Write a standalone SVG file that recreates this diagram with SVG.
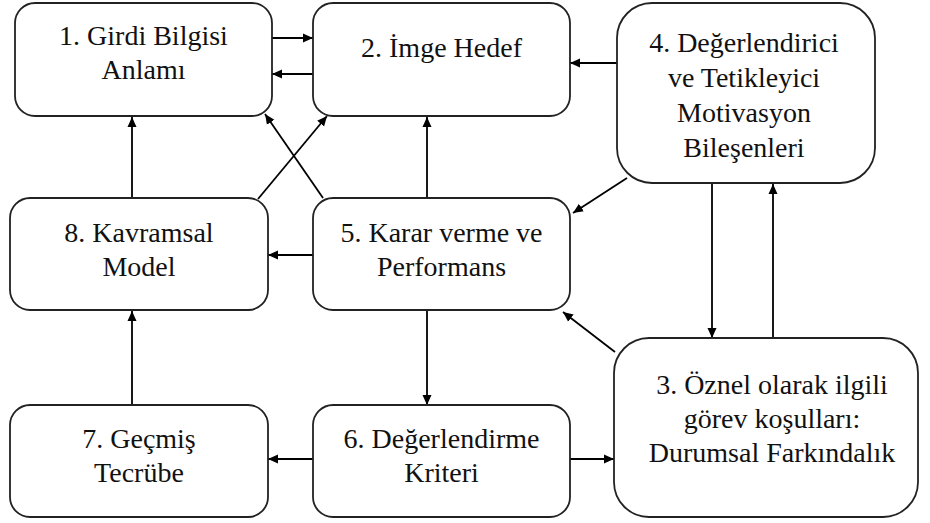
<svg xmlns="http://www.w3.org/2000/svg" width="930" height="523" viewBox="0 0 930 523">
<defs>
<marker id="ah" viewBox="0 0 10 10" refX="10" refY="5" markerWidth="10" markerHeight="10" markerUnits="userSpaceOnUse" orient="auto">
<path d="M0,0.5 L10,5 L0,9.5 Z" fill="#000"/>
</marker>
<style>
.box{fill:#fff;stroke:#222;stroke-width:1.8}
.t{font-family:'Liberation Serif','Times New Roman',serif;font-size:28px;fill:#111;text-anchor:middle}
.c{stroke:#000;stroke-width:1.8;fill:none;marker-end:url(#ah)}
</style>
</defs>
<rect width="930" height="523" fill="#fff"/>
<g id="connectors">
<line class="c" x1="272" y1="38" x2="313" y2="38"/>
<line class="c" x1="313" y1="74" x2="272" y2="74"/>
<line class="c" x1="617" y1="63" x2="570" y2="63"/>
<line class="c" x1="627" y1="178" x2="573" y2="213"/>
<line class="c" x1="712" y1="183" x2="712" y2="338"/>
<line class="c" x1="773" y1="338" x2="773" y2="184"/>
<line class="c" x1="615" y1="352" x2="563" y2="312"/>
<line class="c" x1="427" y1="198" x2="427" y2="117"/>
<line class="c" x1="323" y1="198" x2="265" y2="114"/>
<line class="c" x1="258" y1="199" x2="327" y2="116"/>
<line class="c" x1="132" y1="198" x2="132" y2="117"/>
<line class="c" x1="313" y1="255" x2="268" y2="255"/>
<line class="c" x1="427" y1="310" x2="427" y2="405"/>
<line class="c" x1="132" y1="405" x2="132" y2="311"/>
<line class="c" x1="313" y1="459" x2="268" y2="459"/>
<line class="c" x1="570" y1="459" x2="614" y2="459"/>
</g>
<g id="n1"><rect class="box" x="15" y="3" width="257" height="113" rx="20"/><text class="t" x="143.5" y="45">1. Girdi Bilgisi</text><text class="t" x="143.5" y="79">Anlamı</text></g>
<g id="n2"><rect class="box" x="313" y="3" width="257" height="113" rx="20"/><text class="t" x="441.5" y="57">2. İmge Hedef</text></g>
<g id="n4"><rect class="box" x="617" y="3" width="258" height="180" rx="35"/><text class="t" x="744" y="52">4. Değerlendirici</text><text class="t" x="744" y="87">ve Tetikleyici</text><text class="t" x="744" y="122">Motivasyon</text><text class="t" x="744" y="157">Bileşenleri</text></g>
<g id="n8"><rect class="box" x="10" y="198" width="258" height="112" rx="20"/><text class="t" x="139" y="242">8. Kavramsal</text><text class="t" x="139" y="276">Model</text></g>
<g id="n5"><rect class="box" x="313" y="198" width="257" height="112" rx="20"/><text class="t" x="441.5" y="242">5. Karar verme ve</text><text class="t" x="441.5" y="276">Performans</text></g>
<g id="n3"><rect class="box" x="614" y="338" width="304" height="179" rx="35"/><text class="t" x="772" y="394">3. Öznel olarak ilgili</text><text class="t" x="772" y="428">görev koşulları:</text><text class="t" x="772" y="462">Durumsal Farkındalık</text></g>
<g id="n7"><rect class="box" x="10" y="405" width="258" height="112" rx="20"/><text class="t" x="139" y="448">7. Geçmiş</text><text class="t" x="139" y="482">Tecrübe</text></g>
<g id="n6"><rect class="box" x="313" y="405" width="257" height="112" rx="20"/><text class="t" x="441.5" y="448">6. Değerlendirme</text><text class="t" x="441.5" y="482">Kriteri</text></g>
</svg>
